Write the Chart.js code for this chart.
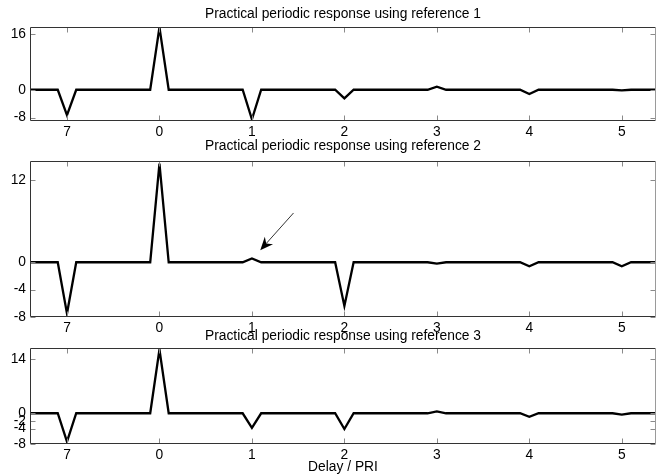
<!DOCTYPE html>
<html>
<head>
<meta charset="utf-8">
<script src="https://cdn.jsdelivr.net/npm/chart.js@4.4.1/dist/chart.umd.min.js"></script>
<style>
    html, body { margin: 0; padding: 0; background: #fff; }
    #wrap { position: relative; width: 660px; height: 476px; }
    #wrap canvas { position: absolute; left: 0; top: 0; }
</style>
</head>
<body>
<div id="wrap">
    <canvas id="c1" width="660" height="476"></canvas>
    <canvas id="c2" width="660" height="476"></canvas>
    <canvas id="c3" width="660" height="476"></canvas>
</div>
<script>
// delay breakpoints (in PRI), -1 is shown as 7 (circular)
var delays = [-1.4, -1.1, -1, -0.9, -0.1, 0, 0.1, 0.9, 1, 1.1, 1.9, 2, 2.1, 2.9, 3, 3.1, 3.9, 4, 4.1, 4.9, 5, 5.1, 5.4];
var resp1  = [0, 0, -7.3, 0, 0, 18, 0, 0, -8.5, 0, 0, -2.5, 0, 0, 0.9, 0, 0, -1.2, 0, 0, -0.2, 0, 0];
var resp2  = [0, 0, -7.5, 0, 0, 14.4, 0, 0, 0.55, 0, 0, -6.4, 0, 0, -0.2, 0, 0, -0.6, 0, 0, -0.6, 0, 0];
var resp3  = [0, 0, -7.4, 0, 0, 16.6, 0, 0, -3.8, 0, 0, -4.1, 0, 0, 0.5, 0, 0, -0.9, 0, 0, -0.35, 0, 0];

var xTicks = [-1, 0, 1, 2, 3, 4, 5];
var xTickLabels = ['7', '0', '1', '2', '3', '4', '5'];
var yTicks1 = [16, 0, -8];
var yTicks2 = [12, 0, -4, -8];
var yTicks3 = [14, 0, -2, -4, -8];

var titles = [
    'Practical periodic response using reference 1',
    'Practical periodic response using reference 2',
    'Practical periodic response using reference 3'
];
var xLabel = 'Delay / PRI';

// arrow on panel 2 (data coords: tail -> head)
var arrowFrom = [1.45, 7.2];
var arrowTo = [1.09, 1.76];

var FONT = 'Liberation Sans, Arial, sans-serif';
var FS = 13.8;

var framePlugin = {
    id: 'frame',
    afterDatasetsDraw: function(chart) {
        var ctx = chart.ctx;
        var a = chart.chartArea;
        var xs = chart.scales.x;
        var ys = chart.scales.y;
        var L = Math.round(a.left) + 0.5, R = Math.round(a.right) - 0.5;
        var T = Math.round(a.top) + 0.5, B = Math.round(a.bottom) - 0.5;
        ctx.save();
        ctx.lineWidth = 1;
        ctx.strokeStyle = '#8a8a8a';
        ctx.beginPath();
        xTicks.forEach(function(v) {
            var px = Math.round(xs.getPixelForValue(v)) + 0.5;
            ctx.moveTo(px, B); ctx.lineTo(px, B - 5);
            ctx.moveTo(px, T); ctx.lineTo(px, T + 5);
        });
        ys.ticks.forEach(function(t) {
            var py = Math.round(ys.getPixelForValue(t.value)) + 0.5;
            ctx.moveTo(L, py); ctx.lineTo(L + 5, py);
            ctx.moveTo(R, py); ctx.lineTo(R - 5, py);
        });
        ctx.stroke();

        ctx.strokeStyle = '#333';
        ctx.beginPath();
        ctx.moveTo(L, T); ctx.lineTo(L, B); ctx.lineTo(R, B);
        ctx.moveTo(L, T); ctx.lineTo(R, T);
        ctx.stroke();
        ctx.strokeStyle = '#9a9a9a';
        ctx.beginPath();
        ctx.moveTo(R, T); ctx.lineTo(R, B);
        ctx.stroke();
        ctx.restore();
    }
};

var arrowPlugin = {
    id: 'arrow',
    afterDatasetsDraw: function(chart, args, opts) {
        if (!opts.show) return;
        var ctx = chart.ctx;
        var xs = chart.scales.x, ys = chart.scales.y;
        var x0 = xs.getPixelForValue(arrowFrom[0]), y0 = ys.getPixelForValue(arrowFrom[1]);
        var x1 = xs.getPixelForValue(arrowTo[0]), y1 = ys.getPixelForValue(arrowTo[1]);
        var ang = Math.atan2(y1 - y0, x1 - x0);
        var len = 13, half = 5.5, notch = 9;
        ctx.save();
        ctx.strokeStyle = '#333';
        ctx.lineWidth = 1;
        ctx.beginPath();
        ctx.moveTo(x0, y0);
        ctx.lineTo(x1 - notch * Math.cos(ang), y1 - notch * Math.sin(ang));
        ctx.stroke();
        ctx.fillStyle = '#000';
        ctx.beginPath();
        ctx.moveTo(x1, y1);
        ctx.lineTo(x1 - len * Math.cos(ang) + half * Math.sin(ang), y1 - len * Math.sin(ang) - half * Math.cos(ang));
        ctx.lineTo(x1 - notch * Math.cos(ang), y1 - notch * Math.sin(ang));
        ctx.lineTo(x1 - len * Math.cos(ang) - half * Math.sin(ang), y1 - len * Math.sin(ang) + half * Math.cos(ang));
        ctx.closePath();
        ctx.fill();
        ctx.restore();
    }
};

function makePanel(id, values, yTicks, yMin, yMax, title, pad, titlePad, axisH, showXTitle, showArrow) {
    var pts = delays.map(function(d, i) { return { x: d, y: values[i] }; });
    return new Chart(document.getElementById(id), {
        type: 'line',
        data: {
            datasets: [{
                data: pts,
                borderColor: '#000',
                borderWidth: 2.3,
                pointRadius: 0,
                tension: 0,
                fill: false
            }]
        },
        plugins: [framePlugin, arrowPlugin],
        options: {
            responsive: false,
            animation: false,
            layout: { padding: pad },
            plugins: {
                legend: { display: false },
                tooltip: { enabled: false },
                title: {
                    display: true,
                    fullSize: false,
                    text: title,
                    color: '#000',
                    font: { family: FONT, size: FS, weight: 'normal' },
                    padding: titlePad
                },
                arrow: { show: showArrow }
            },
            scales: {
                x: {
                    type: 'linear',
                    min: -1.4,
                    max: 5.37,
                    grid: { display: false, drawTicks: false },
                    border: { display: false },
                    afterBuildTicks: function(scale) {
                        scale.ticks = xTicks.map(function(v) { return { value: v }; });
                    },
                    afterFit: function(scale) { scale.height = axisH; },
                    ticks: {
                        autoSkip: false,
                        maxRotation: 0,
                        padding: 3,
                        color: '#000',
                        font: { family: FONT, size: FS },
                        callback: function(v) { return xTickLabels[xTicks.indexOf(v)]; }
                    },
                    title: {
                        display: showXTitle,
                        text: xLabel,
                        color: '#000',
                        font: { family: FONT, size: FS },
                        padding: { top: 0, bottom: 0.7 }
                    }
                },
                y: {
                    min: yMin,
                    max: yMax,
                    grid: { display: false, drawTicks: false },
                    border: { display: false },
                    afterBuildTicks: function(scale) {
                        scale.ticks = yTicks.map(function(v) { return { value: v }; });
                    },
                    afterFit: function(scale) { scale.width = 30; },
                    ticks: {
                        autoSkip: false,
                        padding: 4,
                        color: '#000',
                        font: { family: FONT, size: FS }
                    }
                }
            }
        }
    });
}

// panel 1: area 27..121, panel 2: 161..317, panel 3: 348..444
makePanel('c1', resp1, yTicks1, -9, 18.1, titles[0],
    { top: 0, bottom: 335, left: 0, right: 4 }, { top: 5.7, bottom: 4.7 }, 20, false, false);
makePanel('c2', resp2, yTicks2, -8, 14.8, titles[1],
    { top: 134, bottom: 139, left: 0, right: 4 }, { top: 4.4, bottom: 6.0 }, 20, false, true);
makePanel('c3', resp3, yTicks3, -8, 17, titles[2],
    { top: 321, bottom: 0, left: 0, right: 4 }, { top: 7.4, bottom: 3.0 }, 32, true, false);
</script>
</body>
</html>
